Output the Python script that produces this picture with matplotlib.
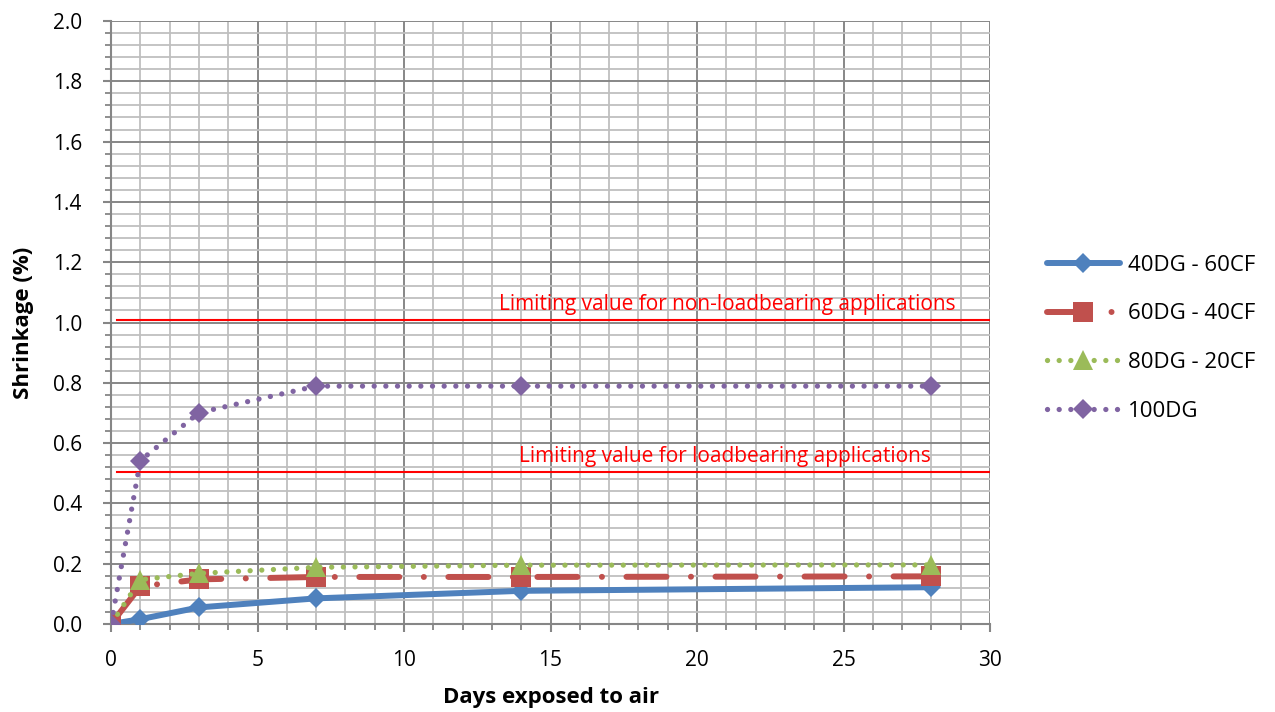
import matplotlib
matplotlib.use("Agg")
import matplotlib.pyplot as plt
from matplotlib.ticker import MultipleLocator, FormatStrFormatter

plt.rcParams['font.family'] = ['Open Sans', 'DejaVu Sans']

days = [0, 1, 3, 7, 14, 28]
s_40dg_60cf = [0.0, 0.016, 0.055, 0.085, 0.11, 0.122]
s_60dg_40cf = [0.0, 0.125, 0.148, 0.156, 0.156, 0.158]
s_80dg_20cf = [0.0, 0.147, 0.168, 0.188, 0.195, 0.196]
s_100dg = [0.0, 0.542, 0.701, 0.789, 0.789, 0.789]
series_labels = ['40DG - 60CF', '60DG - 40CF', '80DG - 20CF', '100DG']

limit_nonload = 1.008
limit_load = 0.505
limit_x = [0.2, 30]
limit_texts = ['Limiting value for non-loadbearing applications',
               'Limiting value for loadbearing applications']

x_label = 'Days exposed to air'
y_label = 'Shrinkage (%)'

fig = plt.figure(figsize=(12.75, 7.12), dpi=100)
ax = fig.add_axes([0.0871, 0.1236, 0.6894, 0.8469])

ax.set_xlim(0, 30)
ax.set_ylim(0, 2.0)
ax.xaxis.set_major_locator(MultipleLocator(5))
ax.xaxis.set_minor_locator(MultipleLocator(1))
ax.yaxis.set_major_locator(MultipleLocator(0.2))
ax.yaxis.set_minor_locator(MultipleLocator(0.04))
ax.yaxis.set_major_formatter(FormatStrFormatter('%.1f'))

ax.grid(which='minor', color='#BFBFBF', linewidth=1.3, zorder=0)
ax.grid(which='major', color='#878787', linewidth=1.4, zorder=0)
ax.set_axisbelow(True)

for sp in ['top', 'right']:
    ax.spines[sp].set_visible(False)
for sp in ['left', 'bottom']:
    ax.spines[sp].set_color('#868686')
    ax.spines[sp].set_linewidth(1.5)

ax.tick_params(which='major', direction='out', length=6, width=1.5, color='#868686',
               labelsize=15)
ax.tick_params(which='minor', direction='out', length=4.5, width=1.3, color='#868686')
ax.tick_params(axis='y', which='major', pad=15)
ax.tick_params(axis='x', which='major', pad=13)

blue = '#4F81BD'
red = '#C0504D'
green = '#9BBB59'
purple = '#8064A2'

ax.plot(days, s_40dg_60cf, color=blue, linewidth=4.3, marker='D', markersize=10.5,
        markeredgewidth=0, solid_capstyle='round', label=series_labels[0], zorder=5)
ax.plot(days, s_60dg_40cf, color=red, linewidth=4.3, marker='s', markersize=14,
        markeredgewidth=0, linestyle=(0, (6.7, 4.1, 0.01, 4.1)), dash_capstyle='round',
        label=series_labels[1], zorder=6)
ax.plot(days, s_80dg_20cf, color=green, linewidth=3.8, marker='^', markersize=15,
        markeredgewidth=0, linestyle=(0, (0.01, 2.2)), dash_capstyle='round',
        label=series_labels[2], zorder=7)
ax.plot(days, s_100dg, color=purple, linewidth=3.8, marker='D', markersize=10.5,
        markeredgewidth=0, linestyle=(0, (0.01, 2.2)), dash_capstyle='round',
        label=series_labels[3], zorder=8)

ax.plot(limit_x, [limit_nonload, limit_nonload], color='#FF0000', linewidth=1.5, zorder=4)
ax.plot(limit_x, [limit_load, limit_load], color='#FF0000', linewidth=1.5, zorder=4)
ax.text(21.04, limit_nonload + 0.052, limit_texts[0], color='#FF0000', fontsize=15,
        ha='center', va='center', zorder=4)
ax.text(20.94, limit_load + 0.051, limit_texts[1], color='#FF0000', fontsize=15,
        ha='center', va='center', zorder=4)

ax.set_xlabel(x_label, fontsize=16, fontweight='bold', labelpad=11)
ax.set_ylabel(y_label, fontsize=16, fontweight='bold', labelpad=13)

fig.legend(loc='center left', bbox_to_anchor=(0.821, 0.525), frameon=False,
           fontsize=16, handlelength=3.3, handletextpad=0.35, labelspacing=1.25,
           borderpad=0, borderaxespad=0)

fig.savefig('out.png', dpi=100)
